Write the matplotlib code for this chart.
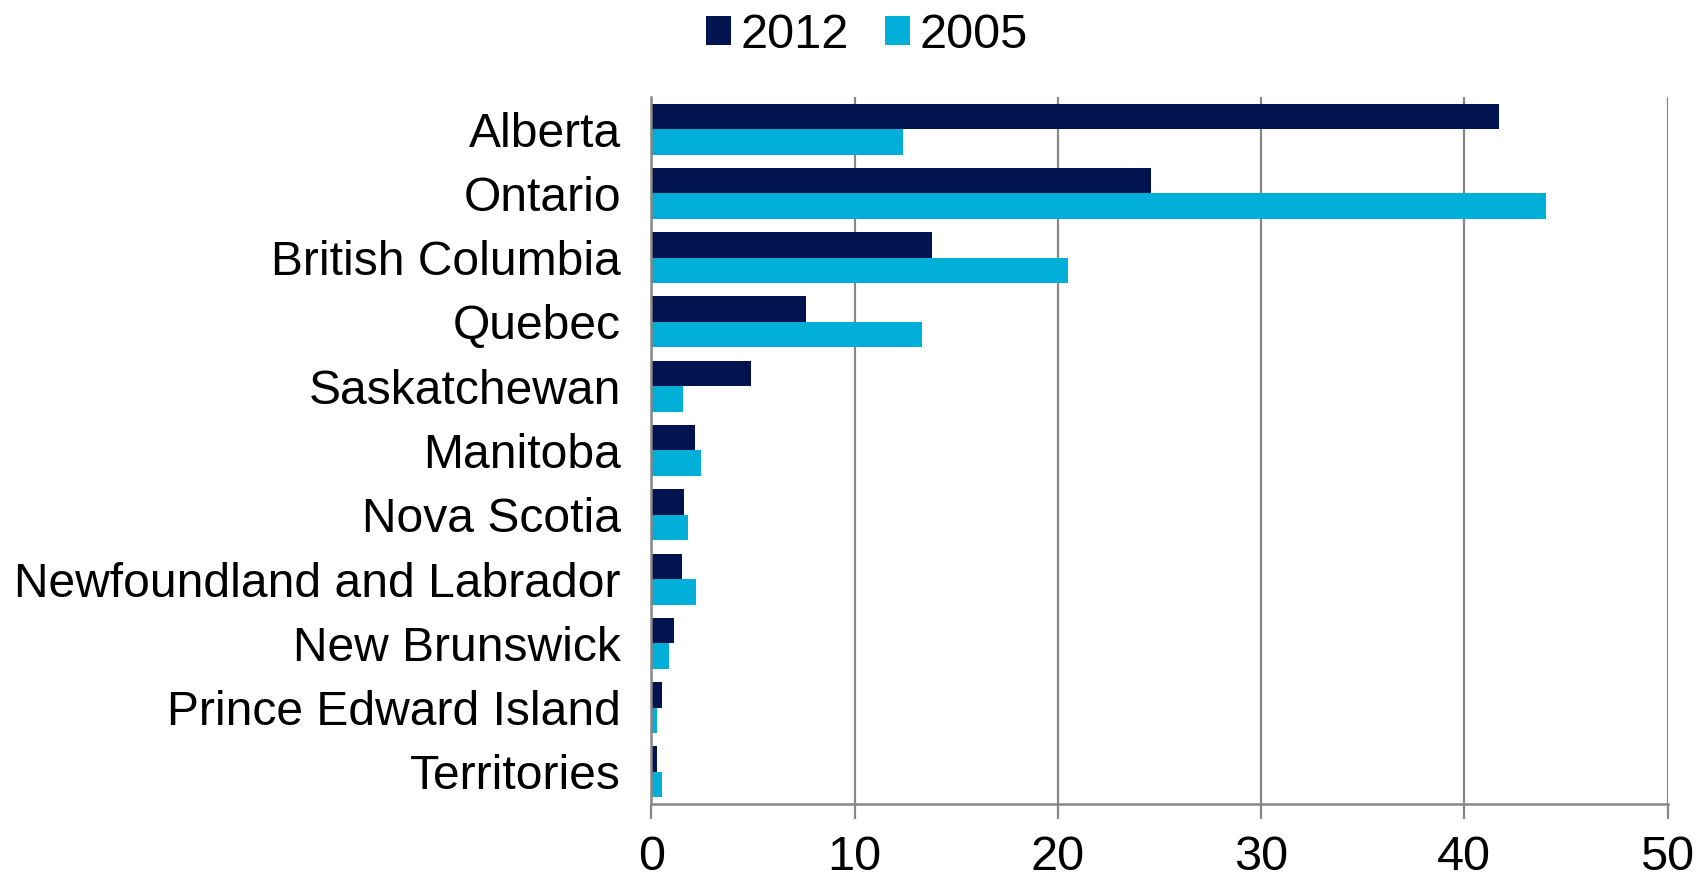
import matplotlib
matplotlib.use("Agg")
import matplotlib.pyplot as plt
import numpy as np

plt.rcParams['font.family'] = ['Liberation Sans', 'DejaVu Sans']

provinces = ["Alberta", "Ontario", "British Columbia", "Quebec", "Saskatchewan",
             "Manitoba", "Nova Scotia", "Newfoundland and Labrador", "New Brunswick",
             "Prince Edward Island", "Territories"]
values_2012 = [41.7, 24.6, 13.8, 7.6, 4.9, 2.15, 1.6, 1.48, 1.13, 0.52, 0.28]
values_2005 = [12.4, 44.0, 20.5, 13.3, 1.57, 2.43, 1.8, 2.18, 0.84, 0.25, 0.51]
series_labels = ["2012", "2005"]
x_ticks = [0, 10, 20, 30, 40, 50]

c2012 = "#02144F"
c2005 = "#00AFD8"
grid_c = "#878787"

fig = plt.figure(figsize=(17, 8.81), dpi=100)
ax = fig.add_axes([0.3832, 0.0874, 0.9809 - 0.3832, 0.8899 - 0.0874])

y = np.arange(len(provinces))
h = 0.397
b1 = ax.barh(y - h / 2, values_2012, height=h, color=c2012, label=series_labels[0], zorder=3)
b2 = ax.barh(y + h / 2, values_2005, height=h, color=c2005, label=series_labels[1], zorder=3)

ax.set_ylim(len(provinces) - 0.5, -0.5)
ax.set_xlim(0, 50)
ax.set_xticks(x_ticks)
ax.set_xticklabels([str(t) for t in x_ticks])
ax.set_yticks(y)
ax.set_yticklabels(provinces)

ax.xaxis.grid(True, color=grid_c, linewidth=1.6, zorder=0)
ax.set_axisbelow(True)
for s in ["top", "right"]:
    ax.spines[s].set_visible(False)
for s in ["left", "bottom"]:
    ax.spines[s].set_color(grid_c)
    ax.spines[s].set_linewidth(1.8)
    ax.spines[s].set_zorder(4)

ax.tick_params(axis='x', direction='out', length=11, width=1.6, color=grid_c,
               labelsize=35, pad=11)
ax.tick_params(axis='y', length=0, labelsize=34.6, pad=22)

fig.legend(handles=[b1, b2], labels=series_labels, loc='center',
           bbox_to_anchor=(867 / 1700, 0.96), ncol=2, frameon=False,
           fontsize=35, handlelength=0.52, handleheight=0.52,
           handletextpad=0.2, columnspacing=0.73, borderaxespad=0, borderpad=0)

fig.savefig("out.png", dpi=100)
